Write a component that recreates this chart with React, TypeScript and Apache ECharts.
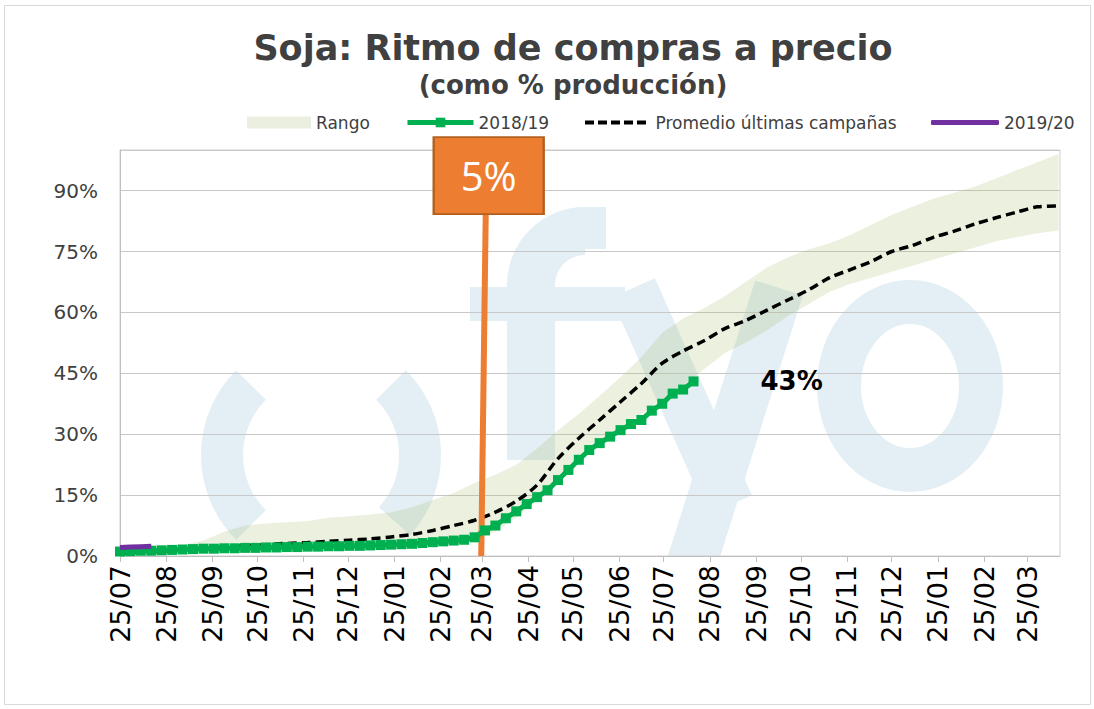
import React, { useEffect, useRef } from "react";
import * as echarts from "echarts";

// ---- Axis (days counted from 25/07/2018) ----
const TICK_DAYS = [0, 31, 62, 92, 123, 153, 184, 215, 243, 274, 304, 335, 365, 396, 427, 457, 488, 518, 549, 580, 609];
const TICK_LABELS = ["25/07", "25/08", "25/09", "25/10", "25/11", "25/12", "25/01", "25/02", "25/03", "25/04", "25/05", "25/06", "25/07", "25/08", "25/09", "25/10", "25/11", "25/12", "25/01", "25/02", "25/03"];
const X_MAX_DAY = 631;

// ---- Series (weekly for campaigns, every 14 days for range & average) ----
const WEEK_STEP = 7;
const BAND_STEP = 14;

const CAMPAIGN_2018_19 = [
  1.1, 1.2, 1.3, 1.3, 1.4, 1.5, 1.6, 1.7, 1.8, 1.8, 1.9, 1.9, 2.0, 2.0, 2.1, 2.1, 2.2, 2.2, 2.3, 2.3,
  2.4, 2.4, 2.5, 2.5, 2.6, 2.7, 2.8, 2.9, 3.0, 3.2, 3.4, 3.6, 3.8, 4.0, 4.6, 6.3, 7.5, 9.3, 11.0, 12.8,
  14.5, 16.2, 18.7, 21.2, 23.7, 26.1, 27.8, 29.4, 31.0, 32.5, 33.5, 35.8, 37.5, 40.0, 41.0, 43.0,
];
const CAMPAIGN_2019_20 = [2.1, 2.2, 2.3, 2.4];

const AVERAGE = [
  0.7, 0.9, 1.1, 1.5, 1.8, 2.2, 2.5, 2.8, 3.1, 3.3, 3.6, 3.9, 4.2, 4.7, 5.3, 6.3, 7.5, 8.8, 10.8, 13.5,
  17.5, 24.0, 29.0, 33.5, 38.0, 42.5, 47.5, 50.5, 53.0, 56.0, 58.0, 60.5, 63.0, 65.5, 68.5, 70.5, 72.5, 75.0,
  76.5, 78.5, 80.0, 81.8, 83.3, 84.7, 86.0, 86.2,
];
const RANGE_LOW = [
  0.5, 0.7, 0.9, 1.0, 1.1, 1.2, 1.3, 1.4, 1.5, 1.6, 1.7, 1.8, 1.9, 2.0, 2.2, 2.5, 3.0, 4.0, 6.0, 9.5,
  13.5, 18.5, 23.5, 28.0, 31.5, 35.0, 38.5, 42.0, 46.0, 50.0, 52.5, 55.5, 59.0, 62.0, 65.0, 67.0, 68.5, 70.0,
  71.5, 73.0, 74.5, 76.0, 77.5, 78.5, 79.5, 80.2,
];
const RANGE_HIGH = [
  1.5, 1.8, 2.2, 2.7, 3.8, 6.0, 7.5, 8.0, 8.3, 8.6, 9.4, 9.8, 10.2, 10.8, 12.0, 13.8, 15.5, 18.0, 20.0, 22.5,
  26.5, 31.0, 35.0, 39.5, 44.0, 49.0, 55.0, 58.5, 61.0, 64.0, 67.5, 71.0, 73.5, 75.5, 77.0, 79.0, 81.5, 84.0,
  86.0, 88.0, 89.5, 91.0, 93.0, 95.0, 97.0, 99.0,
];

const CALLOUT_DAY = 243;
const CALLOUT_TEXT = "5%";
const LAST_TEXT = "43%";

const TITLE = "Soja: Ritmo de compras a precio";
const SUBTITLE = "(como % producción)";

// ---- Styles ----
const GREEN = "#00B050";
const PURPLE = "#7030A0";
const ORANGE = "#ED7D31";
const BAND = "rgba(165,185,110,0.22)";
const BAND_LEGEND = "#EBEFDF";
const WATERMARK = "#E3EFF4";
const FONT = "'DejaVu Sans', Verdana, sans-serif";
const DASH_ICON = "path://M0,0h9v4h-9z M13,0h9v4h-9z M26,0h9v4h-9z M39,0h9v4h-9z M52,0h9v4h-9z M65,0h0.01v4h-0.01z";

const pairs = (vals: number[], step: number) => vals.map((v, i) => [i * step, v]);

export default function App() {
  const ref = useRef<HTMLDivElement>(null);

  useEffect(() => {
    if (!ref.current) return;
    const chart = echarts.init(ref.current, undefined, { renderer: "svg" });

    const greenData: any[] = pairs(CAMPAIGN_2018_19, WEEK_STEP);
    const lastIdx = greenData.length - 1;
    greenData[lastIdx] = {
      value: greenData[lastIdx],
      label: {
        show: true,
        position: "right",
        distance: 62,
        formatter: LAST_TEXT,
        fontFamily: FONT,
        fontWeight: "bold",
        fontSize: 26,
        color: "#000",
      },
    };

    const legendBase = {
      top: 109,
      itemWidth: 64,
      itemHeight: 12,
      textStyle: { fontFamily: FONT, fontSize: 17, color: "#404040" },
    };

    const rad = (d: number) => (d * Math.PI) / 180;

    const bandRender = (_params: any, api: any) => {
      const upper = RANGE_HIGH.map((v, i) => api.coord([i * BAND_STEP, v]));
      const lower = RANGE_LOW.map((v, i) => api.coord([i * BAND_STEP, v])).reverse();
      return {
        type: "polygon",
        shape: { points: upper.concat(lower) },
        style: { fill: BAND, stroke: "none" },
      };
    };

    chart.setOption({
      animation: false,
      backgroundColor: "#fff",
      grid: {
        left: 120,
        right: 34,
        top: 150,
        bottom: 153,
        show: true,
        borderColor: "#D0D0D0",
        borderWidth: 1,
        outerBoundsMode: "none",
      },
      legend: [
        { ...legendBase, left: 242, data: [{ name: "Rango", icon: "rect", itemStyle: { color: BAND_LEGEND } }] },
        {
          ...legendBase,
          left: 400,
          itemWidth: 66,
          data: [{ name: "2018/19", lineStyle: { width: 5, color: GREEN } }],
        },
        {
          ...legendBase,
          left: 580,
          itemWidth: 66,
          itemHeight: 4,
          data: [{ name: "Promedio últimas campañas", icon: DASH_ICON, itemStyle: { color: "#000" } }],
        },
        {
          ...legendBase,
          left: 926,
          itemWidth: 68,
          itemHeight: 5,
          data: [{ name: "2019/20", icon: "roundRect", itemStyle: { color: PURPLE } }],
        },
      ],
      xAxis: {
        type: "value",
        min: 0,
        max: X_MAX_DAY,
        axisLine: { show: true, lineStyle: { color: "#BFBFBF" } },
        axisTick: { show: true, customValues: TICK_DAYS, length: 6, lineStyle: { color: "#BFBFBF" } },
        axisLabel: {
          customValues: TICK_DAYS,
          formatter: (v: number) => TICK_LABELS[TICK_DAYS.indexOf(v)] ?? "",
          rotate: 90,
          margin: 9,
          fontFamily: FONT,
          fontSize: 27,
          color: "#000",
        },
        splitLine: { show: false },
      },
      yAxis: {
        type: "value",
        min: 0,
        max: 100,
        interval: 15,
        axisLine: { show: true, lineStyle: { color: "#BFBFBF" } },
        axisTick: { show: false },
        axisLabel: {
          formatter: (v: number) => (v > 90 ? "" : v + "%"),
          fontFamily: FONT,
          fontSize: 20,
          color: "#404040",
          margin: 22,
        },
        splitLine: { lineStyle: { color: "#C8C8C8" } },
      },
      series: [
        {
          name: "Rango",
          type: "custom",
          renderItem: bandRender,
          data: [[0, 0]],
          encode: { x: 0, y: 1 },
          itemStyle: { color: BAND_LEGEND },
          silent: true,
          z: 1,
        },
        {
          name: "Promedio últimas campañas",
          type: "line",
          data: pairs(AVERAGE, BAND_STEP),
          symbol: "none",
          smooth: 0.3,
          itemStyle: { color: "#000" },
          lineStyle: { color: "#000", width: 3.5, type: [9, 5] },
          z: 4,
        },
        {
          name: "2018/19",
          type: "line",
          data: greenData,
          symbol: "rect",
          symbolSize: 10,
          itemStyle: { color: GREEN },
          lineStyle: { color: GREEN, width: 5 },
          z: 5,
          markLine: {
            silent: true,
            symbol: ["none", "none"],
            lineStyle: { color: ORANGE, width: 6, type: "solid" },
            label: { show: false },
            data: [[{ coord: [CALLOUT_DAY - 0.5, 0] }, { coord: [CALLOUT_DAY + 2.5, 84] }]],
          },
          markPoint: {
            silent: true,
            data: [
              {
                coord: [CALLOUT_DAY + 4.5, 93.7],
                symbol: "rect",
                symbolSize: [110, 77],
                itemStyle: { color: ORANGE, borderColor: "#B3601F", borderWidth: 2 },
                label: {
                  show: true,
                  formatter: CALLOUT_TEXT,
                  color: "#fff",
                  fontFamily: "'Open Sans', sans-serif",
                  fontSize: 40,
                },
              },
            ],
          },
        },
        {
          name: "2019/20",
          type: "line",
          data: pairs(CAMPAIGN_2019_20, WEEK_STEP),
          symbol: "none",
          itemStyle: { color: PURPLE },
          lineStyle: { color: PURPLE, width: 5 },
          z: 6,
        },
      ],
      graphic: [
        // watermark "( ) fyo"
        { type: "arc", z: -10, shape: { cx: 321, cy: 455, r: 99, startAngle: rad(135), endAngle: rad(225) }, style: { stroke: WATERMARK, lineWidth: 42, fill: "none" } },
        { type: "arc", z: -10, shape: { cx: 321, cy: 455, r: 99, startAngle: rad(-45), endAngle: rad(42) }, style: { stroke: WATERMARK, lineWidth: 42, fill: "none" } },
        { type: "rect", z: -10, shape: { x: 507, y: 285, width: 48, height: 175 }, style: { fill: WATERMARK } },
        { type: "arc", z: -10, shape: { cx: 585, cy: 285, r: 54, startAngle: rad(180), endAngle: rad(270) }, style: { stroke: WATERMARK, lineWidth: 48, fill: "none" } },
        { type: "rect", z: -10, shape: { x: 584, y: 207, width: 22, height: 42 }, style: { fill: WATERMARK } },
        { type: "rect", z: -10, shape: { x: 470, y: 287, width: 155, height: 34 }, style: { fill: WATERMARK } },
        { type: "line", z: -10, shape: { x1: 633, y1: 288, x2: 730, y2: 505 }, style: { stroke: WATERMARK, lineWidth: 48 } },
        { type: "line", z: -10, shape: { x1: 779, y1: 288, x2: 688, y2: 575 }, style: { stroke: WATERMARK, lineWidth: 50 } },
        { type: "ellipse", z: -10, shape: { cx: 910, cy: 386, rx: 71, ry: 84 }, style: { stroke: WATERMARK, lineWidth: 44, fill: "none" } },
        { type: "rect", z: -5, shape: { x: 0, y: 557, width: 1094, height: 152 }, style: { fill: "#fff" } },
        // frame
        { type: "rect", z: -5, shape: { x: 4.5, y: 5.5, width: 1086, height: 699 }, style: { fill: "none", stroke: "#D9D9D9", lineWidth: 1 } },
        // titles
        {
          type: "text",
          z: 10,
          x: 573,
          y: 48,
          style: { text: TITLE, font: `bold 35px ${FONT}`, fill: "#404040", textAlign: "center", textVerticalAlign: "middle", align: "center", verticalAlign: "middle" },
        },
        {
          type: "text",
          z: 10,
          x: 573,
          y: 85,
          style: { text: SUBTITLE, font: `bold 26px ${FONT}`, fill: "#404040", textAlign: "center", textVerticalAlign: "middle", align: "center", verticalAlign: "middle" },
        },
      ],
    });

    return () => chart.dispose();
  }, []);

  return <div ref={ref} style={{ position: "fixed", left: 0, top: 0, width: 1094, height: 709 }} />;
}
